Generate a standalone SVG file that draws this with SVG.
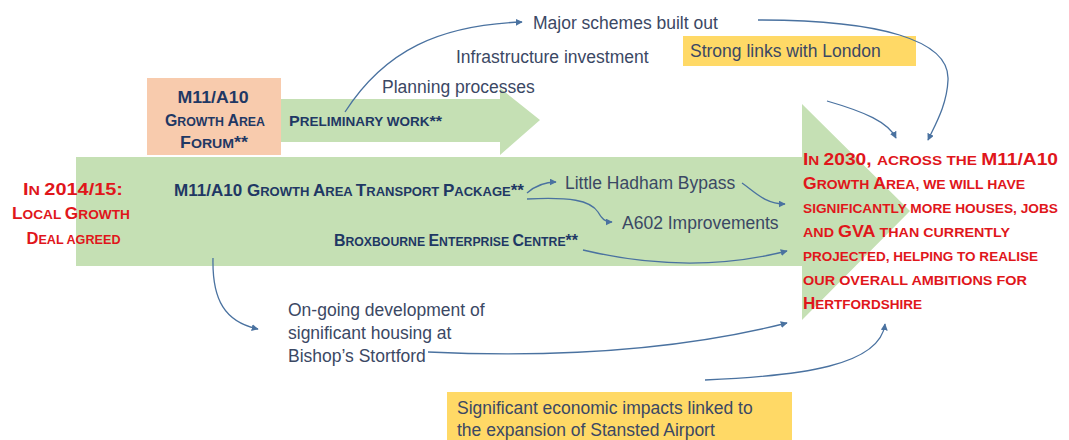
<svg xmlns="http://www.w3.org/2000/svg" width="1069" height="440" viewBox="0 0 1069 440">
<style>
.t{font-family:"Liberation Sans",Arial,sans-serif;font-size:17.5px;fill:#3B4864}
.b{font-family:"Liberation Sans",Arial,sans-serif;font-weight:bold;fill:#1F3864}
.r{font-family:"Liberation Sans",Arial,sans-serif;font-weight:bold;fill:#E0161B;font-size:17px}
.c{fill:none;stroke:#4A72A0;stroke-width:1.3}
</style>
<defs>
<marker id="ah" viewBox="0 0 10 10" refX="9" refY="5" markerWidth="7" markerHeight="7" markerUnits="userSpaceOnUse" orient="auto">
<path d="M0,0 L10,5 L0,10 Z" fill="#4A72A0"/>
</marker>
</defs>
<rect width="1069" height="440" fill="#ffffff"/>
<g id="big-arrow">
<polygon points="76,157 802,157 802,104 910,211 802,320 802,266 76,266" fill="#C5E0B4"/>
</g>
<g id="prelim-arrow">
<polygon points="281,99 500,99 500,88 540,120 500,155 500,142 281,142" fill="#C5E0B4"/>
<text class="b" x="289" y="126" font-size="15.5" textLength="153" lengthAdjust="spacingAndGlyphs">P<tspan font-size="13">RELIMINARY WORK</tspan>**</text>
</g>
<g id="forum">
<rect x="147" y="78" width="134" height="77" fill="#F8CBAD"/>
<text class="b" x="213" y="103" font-size="17" text-anchor="middle" textLength="71" lengthAdjust="spacingAndGlyphs">M11/A10</text>
<text class="b" x="215" y="126" font-size="16" text-anchor="middle" textLength="100" lengthAdjust="spacingAndGlyphs">G<tspan font-size="12.5">ROWTH </tspan>A<tspan font-size="12.5">REA</tspan></text>
<text class="b" x="214" y="148" font-size="17" text-anchor="middle" textLength="68" lengthAdjust="spacingAndGlyphs">F<tspan font-size="13.5">ORUM</tspan>**</text>
</g>
<g id="lgd">
<text class="r" x="73" y="195" text-anchor="middle" font-size="17.5" textLength="100" lengthAdjust="spacingAndGlyphs">I<tspan font-size="13.5">N </tspan>2014/15:</text>
<text class="r" x="71" y="219" text-anchor="middle" font-size="17.5" textLength="118" lengthAdjust="spacingAndGlyphs">L<tspan font-size="13.5">OCAL </tspan>G<tspan font-size="13.5">ROWTH</tspan></text>
<text class="r" x="73.5" y="244" text-anchor="middle" font-size="17.5" textLength="94" lengthAdjust="spacingAndGlyphs">D<tspan font-size="13">EAL AGREED</tspan></text>
</g>
<g id="package">
<text class="b" x="174" y="196" font-size="17" textLength="350" lengthAdjust="spacingAndGlyphs">M11/A10 G<tspan font-size="13">ROWTH </tspan>A<tspan font-size="13">REA </tspan>T<tspan font-size="13">RANSPORT </tspan>P<tspan font-size="13">ACKAGE</tspan>**</text>
</g>
<g id="broxbourne">
<text class="b" x="334" y="246" font-size="16" textLength="244" lengthAdjust="spacingAndGlyphs">B<tspan font-size="12.3">ROXBOURNE </tspan>E<tspan font-size="12.3">NTERPRISE </tspan>C<tspan font-size="12.3">ENTRE</tspan>**</text>
</g>
<g id="little-hadham"><text class="t" x="565" y="189">Little Hadham Bypass</text></g>
<g id="a602"><text class="t" x="622" y="229">A602 Improvements</text></g>
<g id="major"><text class="t" x="533" y="29">Major schemes built out</text></g>
<g id="infra"><text class="t" x="456" y="63">Infrastructure investment</text></g>
<g id="planning"><text class="t" x="382" y="93">Planning processes</text></g>
<g id="london">
<rect x="683" y="36" width="233" height="30" fill="#FFD966"/>
<text class="t" x="690" y="57">Strong links with London</text>
</g>
<g id="housing">
<text class="t" x="288" y="316">On-going development of</text>
<text class="t" x="288" y="339">significant housing at</text>
<text class="t" x="288" y="362">Bishop’s Stortford</text>
</g>
<g id="stansted">
<rect x="447" y="392" width="345" height="48" fill="#FFD966"/>
<text class="t" x="457" y="414">Significant economic impacts linked to</text>
<text class="t" x="457" y="436">the expansion of Stansted Airport</text>
</g>
<g id="outcome">
<text class="r" x="803" y="165" textLength="255" lengthAdjust="spacingAndGlyphs">I<tspan font-size="13.5">N </tspan>2030, <tspan font-size="13.5">ACROSS THE </tspan>M11/A10</text>
<text class="r" x="803" y="189" textLength="222" lengthAdjust="spacingAndGlyphs">G<tspan font-size="13.5">ROWTH </tspan>A<tspan font-size="13.5">REA, WE WILL HAVE</tspan></text>
<text class="r" x="803" y="213" textLength="255" lengthAdjust="spacingAndGlyphs"><tspan font-size="13.5">SIGNIFICANTLY MORE HOUSES, JOBS</tspan></text>
<text class="r" x="803" y="237" textLength="207" lengthAdjust="spacingAndGlyphs"><tspan font-size="13.5">AND </tspan>GVA<tspan font-size="13.5"> THAN CURRENTLY</tspan></text>
<text class="r" x="803" y="261" textLength="235" lengthAdjust="spacingAndGlyphs"><tspan font-size="13.5">PROJECTED, HELPING TO REALISE</tspan></text>
<text class="r" x="803" y="285" textLength="224" lengthAdjust="spacingAndGlyphs"><tspan font-size="13.5">OUR OVERALL AMBITIONS FOR</tspan></text>
<text class="r" x="803" y="309" textLength="119" lengthAdjust="spacingAndGlyphs">H<tspan font-size="13.5">ERTFORDSHIRE</tspan></text>
</g>
<g id="connectors">
<path class="c" marker-end="url(#ah)" d="M345,112 C385,50 440,25 522,22"/>
<path class="c" marker-end="url(#ah)" d="M758,20 C880,20 950,40 948,80 C947,105 935,125 928,140"/>
<path class="c" marker-end="url(#ah)" d="M827,101 C865,112 888,122 896,138"/>
<path class="c" marker-end="url(#ah)" d="M527,193 C535,186 544,182 556,182"/>
<path class="c" marker-end="url(#ah)" d="M527,199 C570,197 590,200 598,212 C602,219 605,222 612,222"/>
<path class="c" marker-end="url(#ah)" d="M742,183 C755,192 765,204 785,204"/>
<path class="c" marker-end="url(#ah)" d="M583,250 C650,266 720,268 787,251"/>
<path class="c" marker-end="url(#ah)" d="M213,258 C212,300 225,322 258,329"/>
<path class="c" marker-end="url(#ah)" d="M428,352 C560,358 680,350 787,323"/>
<path class="c" marker-end="url(#ah)" d="M705,380 C800,376 880,366 885,324"/>
</g>
</svg>
